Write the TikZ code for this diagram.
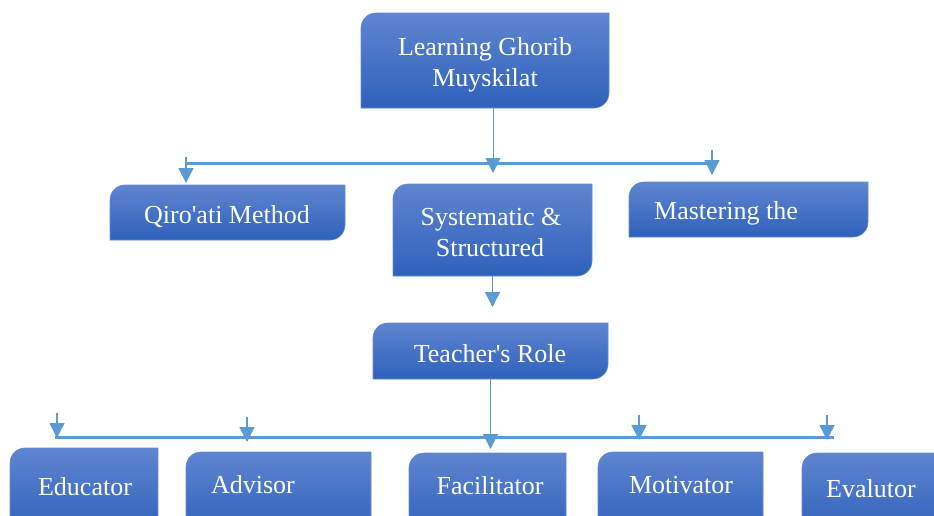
\documentclass[tikz,border=0pt]{standalone}
\usepackage{fontspec}
\setmainfont{Liberation Serif}[Ligatures=TeXOff]
\usetikzlibrary{arrows.meta}
\definecolor{lnc}{RGB}{91,155,213}
\definecolor{btop}{RGB}{95,133,208}
\definecolor{bbot}{RGB}{47,97,187}
\definecolor{bedge}{RGB}{98,138,212}
\newcommand\gbox[5]{%
  \shadedraw[top color=btop,bottom color=bbot,draw=bedge,line width=0.6pt]
    (#1,#4) -- (#1,#2+15) .. controls (#1,#2+6.7) and (#1+6.7,#2) .. (#1+15,#2) -- (#3,#2)
    -- (#3,#4-15) .. controls (#3,#4-6.7) and (#3-6.7,#4) .. (#3-15,#4) -- cycle;
  \node[area, minimum width={(#3-#1)*1pt}, minimum height={(#4-#2)*1pt}] (#5) at ({(#1+#3)/2},{(#2+#4)/2}) {};
}
\tikzset{
  area/.style={rectangle, inner sep=0pt, outer sep=0pt},
  txt/.style={anchor=base, inner sep=0pt, text=white, font=\fontsize{26}{31}\selectfont},
  bus/.style={draw=lnc, line width=3pt},
  vl/.style={draw=lnc, line width=1.4pt},
  ar/.style={vl, -{Triangle[length=15pt,width=15pt]}},
}
\begin{document}
\begin{tikzpicture}[x=1pt,y=-1pt]
\useasboundingbox (0,0) rectangle (934,515);
\clip (0,0) rectangle (934,515);
% boxes
\gbox{361}{13}{609}{108}{top}
\gbox{110}{185}{345}{240}{qiro}
\gbox{393}{184}{592}{276}{syst}
\gbox{629}{182}{868}{237}{mast}
\gbox{373}{323}{608}{379}{teach}
\gbox{10}{448}{158}{535}{educ}
\gbox{186}{452}{371}{535}{advi}
\gbox{409}{453}{566}{535}{faci}
\gbox{598}{452}{763}{535}{moti}
\gbox{802}{453}{960}{535}{eval}
% texts
\node[txt] (topt1) at (485,55) {Learning Ghorib};
\node[txt] (topt2) at (485,86) {Muyskilat};
\node[txt] (qirot) at (227,223) {Qiro'ati Method};
\node[txt] (systt1) at (491,225) {Systematic \&};
\node[txt] (systt2) at (490,256) {Structured};
\node[txt] (mastt) at (726,219) {Mastering the};
\node[txt] (teacht) at (490,362) {Teacher's Role};
\node[txt] (educt) at (85,495) {Educator};
\node[txt] (advit) at (253,493) {Advisor};
\node[txt] (facit) at (490,494) {Facilitator};
\node[txt] (motit) at (681,493) {Motivator};
\node[txt] (evalt) at (871,497) {Evalutor};
% upper bus
\coordinate (b1l) at (186,163);
\coordinate (b1m) at (493,163);
\coordinate (b1r) at (712,163);
\draw[bus] (b1l) -- (b1r);
\draw[ar, line width=1pt] (top.south -| b1m) -- ([yshift=-10pt]b1m);
\draw[ar] ([yshift=6pt]b1l) -- ([yshift=-20pt]b1l);
\draw[ar] ([yshift=13pt]b1r) -- ([yshift=-12pt]b1r);
% systematic -> teacher
\draw[ar] (syst.south) -- ([yshift=16pt]teach.north -| syst.south);
% lower bus
\coordinate (b2l) at (55,437);
\coordinate (b2r) at (834,437);
\draw[bus] (b2l) -- (b2r);
\draw[ar] (teach.south) -- ([yshift=4pt]teach.south |- faci.north);
\coordinate (te) at (57,438);
\coordinate (ta) at (247,442);
\coordinate (tm) at (639,440);
\coordinate (tv) at (827,440);
\draw[ar] ([yshift=25pt]te) -- (te);
\draw[ar] ([yshift=25pt]ta) -- (ta);
\draw[ar] ([yshift=25pt]tm) -- (tm);
\draw[ar] ([yshift=25pt]tv) -- (tv);
\end{tikzpicture}
\end{document}
